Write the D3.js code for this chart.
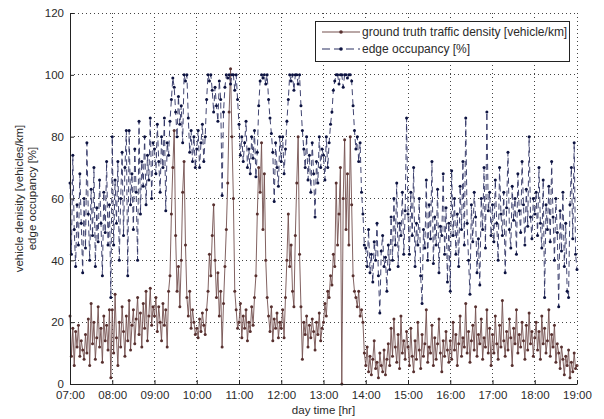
<!DOCTYPE html>
<html>
<head>
<meta charset="utf-8">
<script src="https://cdn.jsdelivr.net/npm/d3@7"></script>
<style>
  body { margin: 0; background: #fff; }
  svg { display: block; font-family: "Liberation Sans", Arial, sans-serif; }
</style>
</head>
<body>
<svg id="chart" width="604" height="419"></svg>
<script>
// samples every 2 minutes, one row per hour, 07:00 .. 19:00
var sampleStep = 2;

var densityValues = [].concat(
  [22,9,18,6,17,12,19,9,14,11,8,16,10,21,6,26,13,20,8,15,25,12,18,7,22,14,19,11,24,2],
  [24,10,29,15,6,20,12,25,17,9,22,14,27,11,19,24,13,21,28,16,23,12,26,18,30,14,22,31,19,25],
  [22,28,17,25,20,14,26,19,24,12,30,35,55,70,82,48,30,38,25,40,62,72,45,28,22,30,18,24,20,16],
  [18,15,21,17,23,19,16,24,30,42,35,48,58,40,28,36,22,30,12,26,38,50,65,88,102,80,60,30,24,18],
  [20,26,15,22,18,24,14,20,17,25,19,28,35,55,70,62,78,50,68,40,28,22,17,25,14,21,18,23,15,20],
  [18,24,15,28,40,55,38,45,30,25,48,65,80,42,25,8,20,16,22,12,19,15,21,17,11,20,16,23,14,18],
  [20,26,22,30,28,35,32,42,38,65,45,55,70,0,60,79,50,68,45,80,58,35,30,28,25,30,22,24,20,10],
  [6,12,4,9,3,8,14,5,7,2,10,6,4,11,3,8,13,6,18,9,21,12,7,16,5,22,10,14,8,17],
  [12,6,18,9,4,14,8,20,11,5,16,9,13,24,7,12,10,19,6,15,8,13,21,10,4,14,9,17,11,7],
  [14,8,20,11,16,6,13,22,9,15,12,26,10,17,7,14,19,11,25,9,16,13,21,8,15,12,24,10,18,6],
  [16,10,22,13,8,19,12,27,14,9,17,11,21,15,6,18,13,24,10,16,12,20,14,8,19,11,23,13,17,9],
  [15,20,11,17,8,22,13,18,10,14,24,9,16,12,19,7,13,10,5,12,8,3,9,6,11,2,7,4,10,5],
  [6]
);

var occupancyValues = [].concat(
  [65,42,74,50,38,58,45,68,52,36,60,44,78,55,40,63,48,70,38,57,46,66,52,35,62,49,72,45,58,28],
  [80,45,66,52,72,40,60,75,48,70,82,35,82,58,68,50,76,62,40,85,55,72,64,80,58,74,66,86,60,78],
  [76,68,84,72,62,80,70,86,56,78,74,85,92,99,96,88,80,93,84,90,78,100,98,100,86,75,82,72,80,70],
  [76,82,70,78,84,72,80,92,100,98,100,95,88,96,90,85,98,92,61,88,96,100,99,100,97,100,100,95,100,92],
  [84,74,80,72,78,85,70,76,68,80,73,82,67,75,90,98,100,99,100,97,100,92,86,81,75,59,78,70,64,80],
  [72,80,68,76,85,92,100,98,100,95,100,100,97,100,90,82,76,70,80,66,74,62,78,68,54,72,65,80,70,76],
  [74,66,80,70,78,84,88,95,98,100,100,97,100,100,96,100,100,99,100,100,98,90,82,76,80,72,78,62,55,45],
  [44,38,50,36,42,33,46,40,52,35,23,43,48,38,41,30,45,37,54,40,60,45,65,38,52,48,62,42,56,86],
  [55,42,62,48,70,38,52,45,60,35,26,50,44,66,40,58,47,72,39,54,45,63,36,51,48,68,42,57,33,52],
  [30,69,48,60,42,55,38,64,50,72,45,86,52,40,29,58,46,62,54,36,47,32,60,50,70,44,88,56,62,48],
  [58,46,66,52,40,70,55,48,62,36,57,75,50,44,64,53,60,42,68,56,49,72,58,45,63,51,80,54,47,60],
  [55,62,48,70,52,44,66,28,58,50,64,46,72,54,40,60,49,25,56,43,62,38,52,30,28,58,70,47,78,42],
  [37]
);

var hourTicks = d3.range(0, 721, 60);           // minutes after 07:00
var yTicks = [0, 20, 40, 60, 80, 100, 120];
var legendLabels = ['ground truth traffic density [vehicle/km]', 'edge occupancy [%]'];
var yLabelLines = ['vehicle denisity [vehicles/km]', 'edge occupancy [%]'];
var xLabel = 'day time [hr]';

var margin = {left: 70, top: 13, right: 27, bottom: 35},
    W = 604, H = 419,
    width = W - margin.left - margin.right,
    height = H - margin.top - margin.bottom;

var svg = d3.select('#chart');
var g = svg.append('g').attr('transform', 'translate(' + margin.left + ',' + margin.top + ')');

var x = d3.scaleLinear().domain([0, 720]).range([0, width]);
var y = d3.scaleLinear().domain([0, 120]).range([height, 0]);

function fmtTime(m) {
    var h = 7 + Math.round(m / 60);
    return (h < 10 ? '0' : '') + h + ':00';
}

// dotted grid
g.append('g').selectAll('line').data(hourTicks.slice(1, -1)).enter().append('line')
    .attr('x1', function(d) { return x(d); }).attr('x2', function(d) { return x(d); })
    .attr('y1', 0).attr('y2', height)
    .attr('stroke', '#444').attr('stroke-width', 1).attr('stroke-dasharray', '1,3')
    .attr('shape-rendering', 'crispEdges');
g.append('g').selectAll('line').data(yTicks.slice(1, -1)).enter().append('line')
    .attr('y1', function(d) { return y(d); }).attr('y2', function(d) { return y(d); })
    .attr('x1', 0).attr('x2', width)
    .attr('stroke', '#444').attr('stroke-width', 1).attr('stroke-dasharray', '1,3')
    .attr('shape-rendering', 'crispEdges');
g.append('line').attr('x1', 0).attr('x2', width).attr('y1', 0).attr('y2', 0)
    .attr('stroke', '#444').attr('stroke-dasharray', '1,3').attr('shape-rendering', 'crispEdges');
g.append('line').attr('x1', width).attr('x2', width).attr('y1', 0).attr('y2', height)
    .attr('stroke', '#444').attr('stroke-dasharray', '1,3').attr('shape-rendering', 'crispEdges');

// series
function seriesPoints(vals) {
    return vals.map(function(v, i) { return [i * sampleStep, v]; });
}
var line = d3.line()
    .x(function(d) { return x(d[0]); })
    .y(function(d) { return y(d[1]); });

var series = [
    {vals: densityValues, stroke: '#74504f', marker: '#58302f', dash: null},
    {vals: occupancyValues, stroke: '#2b3062', marker: '#0c1240', dash: '6,4'}
];

series.forEach(function(s) {
    var pts = seriesPoints(s.vals);
    g.append('path').datum(pts)
        .attr('d', line)
        .attr('fill', 'none')
        .attr('stroke', s.stroke)
        .attr('stroke-width', 0.9)
        .attr('stroke-dasharray', s.dash);
    g.append('g').selectAll('circle').data(pts).enter().append('circle')
        .attr('cx', function(d) { return x(d[0]); })
        .attr('cy', function(d) { return y(d[1]); })
        .attr('r', 1.5)
        .attr('fill', s.marker);
});

// axes (Matlab style, ticks inside)
var xAxis = d3.axisBottom(x).tickValues(hourTicks).tickFormat(fmtTime).tickSizeInner(-4).tickSizeOuter(0).tickPadding(7);
var yAxis = d3.axisLeft(y).tickValues(yTicks).tickSizeInner(-4).tickSizeOuter(0).tickPadding(6);

var gx = g.append('g').attr('transform', 'translate(0,' + height + ')').call(xAxis);
var gy = g.append('g').call(yAxis);
[gx, gy].forEach(function(a) {
    a.select('.domain').attr('stroke', '#222');
    a.selectAll('.tick line').attr('stroke', '#222');
    a.selectAll('.tick text').attr('fill', '#2a2a2a').style('font-size', '11.5px')
        .style('font-family', '"Liberation Sans", Arial, sans-serif');
});

// x label
svg.append('text')
    .attr('x', margin.left + width / 2).attr('y', 414)
    .attr('text-anchor', 'middle')
    .attr('fill', '#2a2a2a').style('font-size', '11.5px')
    .text(xLabel);

// y label, two lines
var yl = svg.append('text')
    .attr('transform', 'translate(23,' + (margin.top + height / 2) + ') rotate(-90)')
    .attr('text-anchor', 'middle')
    .attr('fill', '#2a2a2a').style('font-size', '11.5px');
yLabelLines.forEach(function(t, i) {
    yl.append('tspan').attr('x', 0).attr('dy', i === 0 ? 0 : 13).text(t);
});

// legend
var lg = svg.append('g').attr('transform', 'translate(315,21)');
lg.append('rect').attr('width', 254).attr('height', 40)
    .attr('fill', '#fff').attr('stroke', '#222').attr('stroke-width', 1)
    .attr('shape-rendering', 'crispEdges');
legendLabels.forEach(function(t, i) {
    var s = series[i], ly = 11 + i * 17;
    lg.append('line').attr('x1', 7).attr('x2', 45).attr('y1', ly).attr('y2', ly)
        .attr('stroke', s.stroke).attr('stroke-width', 1.2).attr('stroke-dasharray', s.dash ? '8,4' : null);
    lg.append('circle').attr('cx', 26).attr('cy', ly).attr('r', 1.8).attr('fill', s.marker);
    lg.append('text').attr('x', 47).attr('y', ly + 4)
        .attr('fill', '#2a2a2a').style('font-size', '12px').text(t);
});
</script>
</body>
</html>
